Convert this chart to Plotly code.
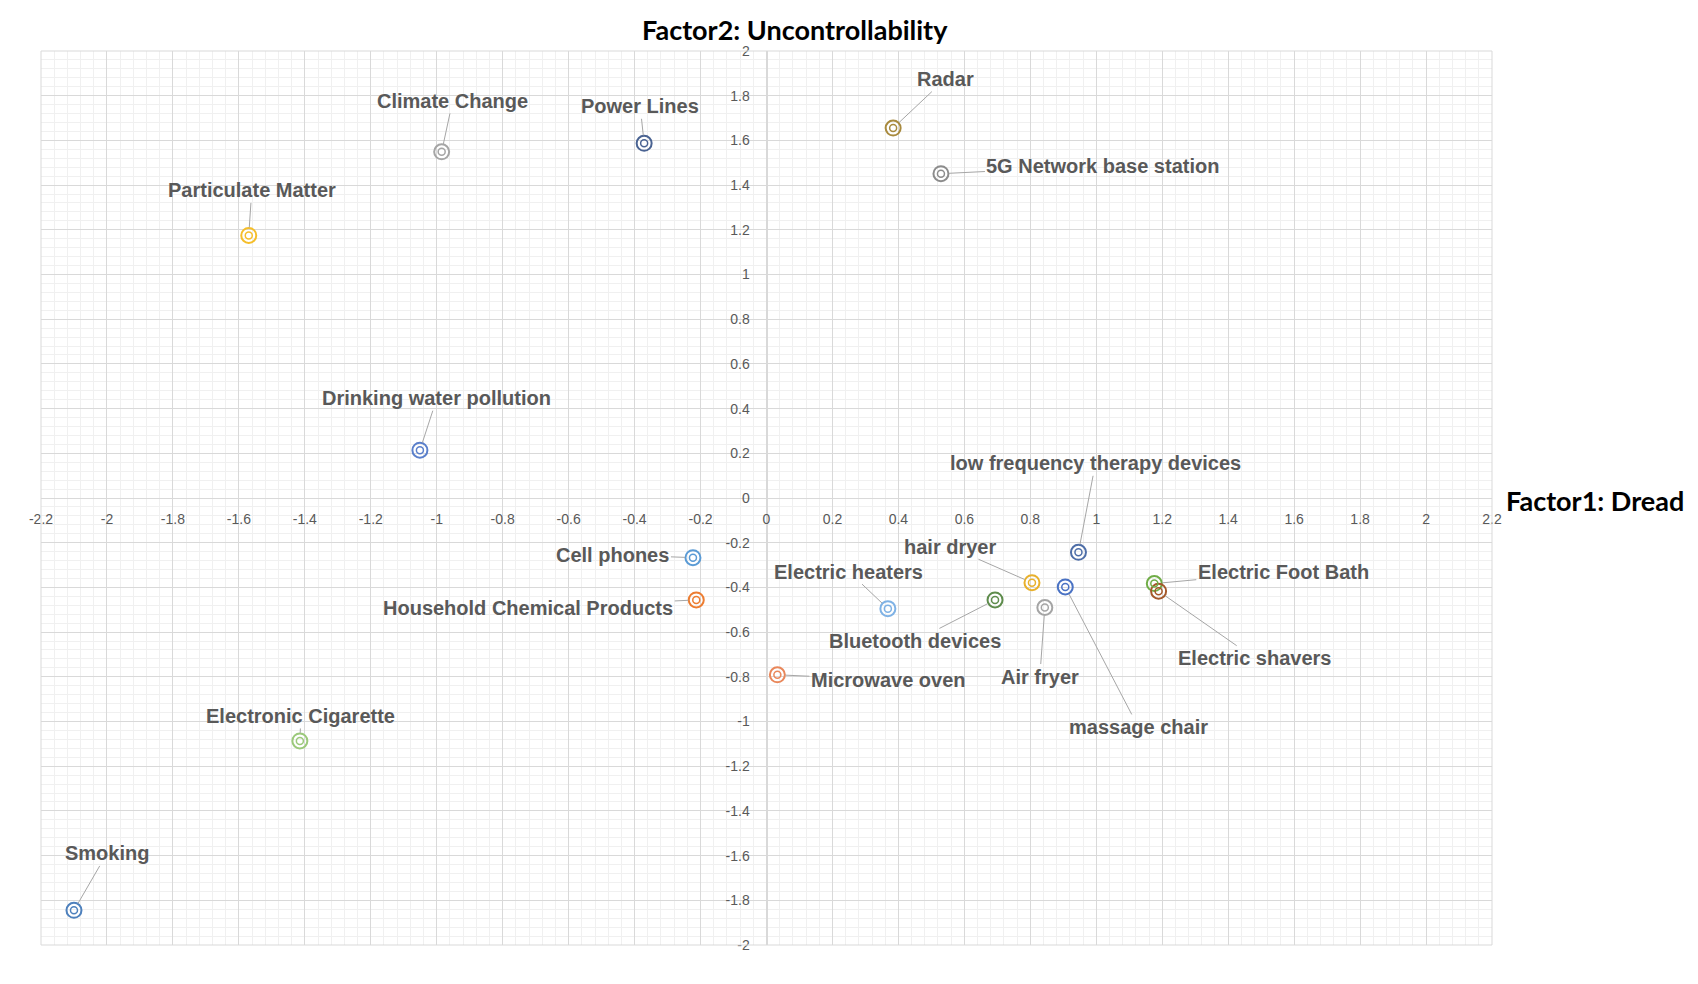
import plotly.graph_objects as go

names = ["Smoking", "Electronic Cigarette", "Particulate Matter", "Climate Change",
         "Power Lines", "Radar", "5G Network base station", "Drinking water pollution",
         "Cell phones", "Household Chemical Products", "Microwave oven", "Electric heaters",
         "Bluetooth devices", "hair dryer", "Air fryer", "massage chair",
         "low frequency therapy devices", "Electric Foot Bath", "Electric shavers"]
dread = [-2.10, -1.415, -1.57, -0.985, -0.371, 0.384, 0.529, -1.051,
         -0.223, -0.213, 0.033, 0.368, 0.693, 0.805, 0.844, 0.906, 0.946, 1.176, 1.189]
uncontrol = [-1.845, -1.087, 1.175, 1.549, 1.587, 1.655, 1.451, 0.214,
             -0.267, -0.456, -0.791, -0.495, -0.456, -0.379, -0.490, -0.398, -0.243, -0.383, -0.417]
colors = ["#4E81BD", "#9BC97A", "#F5BE2A", "#A5A5A5", "#4A6392", "#A88A3E", "#8C8C8C", "#5A7FCB",
          "#5B9BD5", "#ED7D31", "#E9875A", "#7FB2E5", "#5E8C4C", "#E8B02B", "#A5A5A5", "#4A72C4",
          "#4E6EA8", "#70AD47", "#A4582A"]
# label offsets (pixels) of the text from its point
label_dx = [33, 1, 3, 11, -4, 52, 162, 17, -80, -168, 111, -39, -80, -82, -5, 73, 17, 129, 96]
label_dy = [-57, -25, -45, -51, -37, -49, -8, -52, -3, 8, 5, -37, 41, -36, 69, 140, -89, -12, 67]

x_ticks = [round(-2.2 + 0.2 * i, 1) for i in range(23)]
y_ticks = [round(-2.0 + 0.2 * i, 1) for i in range(21)]

def fmt(v):
    s = ("%.1f" % v).rstrip("0").rstrip(".")
    return "0" if s in ("-0", "0") else s

# page body has an 8px margin, so the figure is sized/offset accordingly
W, H = 1690, 976
L, R, T, B = 33, 206, 43, 39

fig = go.Figure()
fig.add_trace(go.Scatter(x=dread, y=uncontrol, mode="markers", hoverinfo="skip",
                         marker=dict(symbol="circle-open", size=15, color=colors,
                                     line=dict(width=2, color=colors))))
fig.add_trace(go.Scatter(x=dread, y=uncontrol, mode="markers", text=names,
                         marker=dict(symbol="circle-open", size=7, color=colors,
                                     line=dict(width=1.5, color=colors))))

for n, xv, yv, dx, dy in zip(names, dread, uncontrol, label_dx, label_dy):
    fig.add_annotation(x=xv, y=yv, ax=dx, ay=dy, text="<b>%s</b>" % n, showarrow=True,
                       arrowhead=0, arrowwidth=1, arrowcolor="#A6A6A6", standoff=8,
                       font=dict(family="Liberation Sans, Arial", size=20, color="#595959"))

fig.add_annotation(xref="paper", yref="paper", x=0.5195, y=1, yshift=22, showarrow=False,
                   text="<b>Factor2: Uncontrollability</b>", xanchor="center", yanchor="middle",
                   font=dict(family="Lato", size=27, color="#000000"))
fig.add_annotation(xref="paper", yref="paper", x=1, y=0.5, xshift=12, yshift=-2, showarrow=False,
                   text="<b>Factor1: Dread</b>", xanchor="left", yanchor="middle",
                   font=dict(family="Lato", size=27, color="#000000"))

fig.add_shape(type="rect", xref="paper", yref="paper", x0=0, y0=0, x1=1, y1=1,
              line=dict(color="#D9D9D9", width=1))

tickfont = dict(family="Liberation Sans Narrow, Liberation Sans", size=14, color="#595959")
fig.update_layout(
    width=W, height=H, margin=dict(l=L, r=R, t=T, b=B),
    paper_bgcolor="white", plot_bgcolor="white", showlegend=False,
    xaxis=dict(range=[-2.2, 2.2], tickvals=x_ticks, ticktext=[fmt(v) for v in x_ticks],
               showgrid=True, gridcolor="#D9D9D9", gridwidth=1, zeroline=False,
               minor=dict(dtick=0.04, tick0=0, showgrid=True, gridcolor="#F0F0F0", gridwidth=1),
               anchor="free", position=0.5, showline=True, linecolor="#D9D9D9",
               ticks="", ticklabelstandoff=8, tickfont=tickfont),
    yaxis=dict(range=[-2, 2], tickvals=y_ticks, ticktext=[fmt(v) for v in y_ticks],
               showgrid=True, gridcolor="#D9D9D9", gridwidth=1, zeroline=False,
               minor=dict(dtick=0.04, tick0=0, showgrid=True, gridcolor="#F0F0F0", gridwidth=1),
               anchor="free", position=0.5, showline=True, linecolor="#D9D9D9",
               ticks="", ticklabelstandoff=14, tickfont=tickfont),
)

fig.write_html("out.html")
